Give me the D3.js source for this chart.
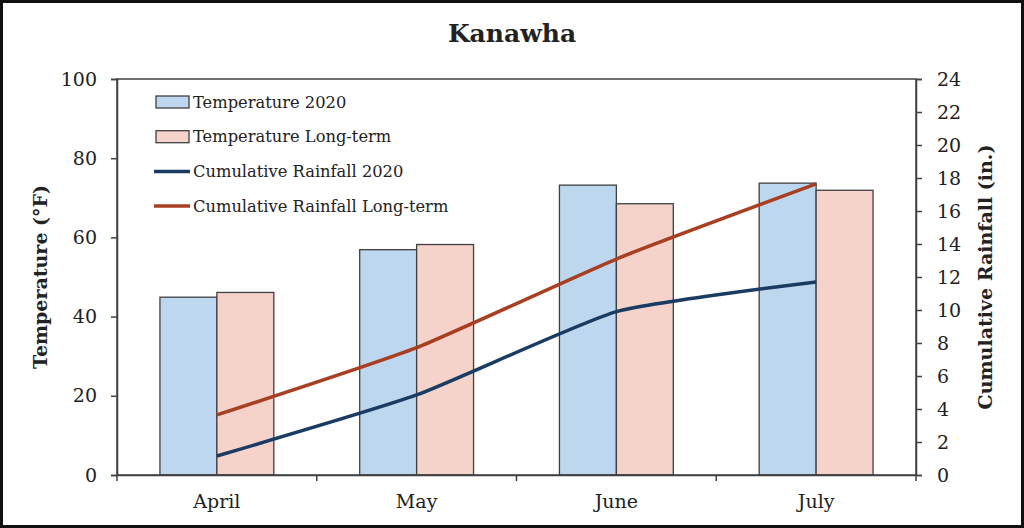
<!DOCTYPE html>
<html lang="en">
<head>
    <meta charset="UTF-8">
    <title>Kanawha</title>
    <script src="https://cdn.jsdelivr.net/npm/d3@7"></script>
    <style>
        body { margin: 0; background: #fff; }
        svg text { fill: #222; }
    </style>
</head>
<body>
<div id="myDiv"></div>

<script>

    // Data
    const months = ["April", "May", "June", "July"];
    const temp2020 = [44.9, 56.9, 73.2, 73.7];
    const tempLongTerm = [46.1, 58.2, 68.5, 71.9];
    const rain2020 = [1.15, 4.85, 9.9, 11.7];
    const rainLongTerm = [3.64, 7.72, 13.09, 17.64];
    const tempTicks = [0, 20, 40, 60, 80, 100];
    const rainTicks = [0, 2, 4, 6, 8, 10, 12, 14, 16, 18, 20, 22, 24];

    const width = 1024, height = 528;
    const margin = {top: 79, right: 108, bottom: 53, left: 117};
    const serif = "'DejaVu Serif', 'Liberation Serif', serif";

    const svg = d3.select("#myDiv")
        .append("svg")
        .attr("width", width)
        .attr("height", height);

    // outer frame
    svg.append("rect")
        .attr("x", 1.5).attr("y", 1.5)
        .attr("width", width - 3).attr("height", height - 3)
        .attr("fill", "#fff")
        .attr("stroke", "#111")
        .attr("stroke-width", 3);

    const x = d3.scaleBand()
        .domain(months)
        .range([margin.left, width - margin.right])
        .paddingInner(0.43)
        .paddingOuter(0.215);

    const inner = d3.scaleBand()
        .domain([0, 1])
        .range([0, x.bandwidth()]);

    const yTemp = d3.scaleLinear()
        .domain([0, 100])
        .range([height - margin.bottom, margin.top]);

    const yRain = d3.scaleLinear()
        .domain([0, 24])
        .range([height - margin.bottom, margin.top]);

    // bars
    const series = [
        {values: temp2020, fill: "#BDD7EE"},
        {values: tempLongTerm, fill: "#F5D2CA"}
    ];

    series.forEach(function(s, k) {
        svg.append("g")
            .selectAll("rect")
            .data(s.values)
            .enter()
            .append("rect")
            .attr("x", function(d, i) { return x(months[i]) + inner(k); })
            .attr("y", function(d) { return yTemp(d); })
            .attr("width", inner.bandwidth())
            .attr("height", function(d) { return yTemp(0) - yTemp(d); })
            .attr("fill", s.fill)
            .attr("stroke", "#404040")
            .attr("stroke-width", 1.3);
    });

    // plot area border
    svg.append("rect")
        .attr("x", margin.left)
        .attr("y", margin.top)
        .attr("width", width - margin.left - margin.right)
        .attr("height", height - margin.top - margin.bottom)
        .attr("fill", "none")
        .attr("stroke", "#404040")
        .attr("stroke-width", 1.5);

    // lines
    const line = d3.line()
        .x(function(d, i) { return x(months[i]) + x.bandwidth() / 2; })
        .y(function(d) { return yRain(d); })
        .curve(d3.curveCardinal.tension(0.5));

    svg.append("path")
        .datum(rainLongTerm)
        .attr("d", line)
        .attr("fill", "none")
        .attr("stroke", "#A93F22")
        .attr("stroke-width", 3.5);

    svg.append("path")
        .datum(rain2020)
        .attr("d", line)
        .attr("fill", "none")
        .attr("stroke", "#1B3C62")
        .attr("stroke-width", 3.5);

    // axes
    const leftAxis = svg.append("g")
        .attr("transform", "translate(" + margin.left + ",0)")
        .call(d3.axisLeft(yTemp).tickValues(tempTicks).tickSize(6).tickPadding(14));

    const rightAxis = svg.append("g")
        .attr("transform", "translate(" + (width - margin.right) + ",0)")
        .call(d3.axisRight(yRain).tickValues(rainTicks).tickSize(6).tickPadding(15));

    const bottomAxis = svg.append("g")
        .attr("transform", "translate(0," + (height - margin.bottom) + ")")
        .call(d3.axisBottom(x).tickSize(0).tickPadding(20));

    // category boundary ticks
    const bounds = months.map(function(m) { return x(m) - x.step() * x.paddingInner() / 2; });
    bounds.push(width - margin.right);
    svg.append("g")
        .selectAll("line")
        .data(bounds)
        .enter()
        .append("line")
        .attr("x1", function(d) { return d; })
        .attr("x2", function(d) { return d; })
        .attr("y1", height - margin.bottom)
        .attr("y2", height - margin.bottom + 6)
        .attr("stroke", "#404040")
        .attr("stroke-width", 1.5);

    [leftAxis, rightAxis, bottomAxis].forEach(function(a) {
        a.select(".domain").attr("stroke", "#404040").attr("stroke-width", 1.5);
        a.selectAll(".tick line").attr("stroke", "#404040").attr("stroke-width", 1.5);
        a.selectAll("text")
            .style("font-family", serif)
            .style("font-size", "19px")
            .attr("fill", "#222");
    });

    // title
    svg.append("text")
        .attr("x", width / 2)
        .attr("y", 42)
        .attr("text-anchor", "middle")
        .style("font-family", serif)
        .style("font-weight", "bold")
        .style("font-size", "25px")
        .text("Kanawha");

    // axis titles
    svg.append("text")
        .attr("transform", "translate(47,277) rotate(-90)")
        .attr("text-anchor", "middle")
        .style("font-family", serif)
        .style("font-weight", "bold")
        .style("font-size", "19px")
        .text("Temperature (°F)");

    svg.append("text")
        .attr("transform", "translate(992,277) rotate(-90)")
        .attr("text-anchor", "middle")
        .style("font-family", serif)
        .style("font-weight", "bold")
        .style("font-size", "19px")
        .text("Cumulative Rainfall (in.)");

    // legend
    const legendItems = [
        {name: "Temperature 2020", type: "bar", color: "#BDD7EE"},
        {name: "Temperature Long-term", type: "bar", color: "#F5D2CA"},
        {name: "Cumulative Rainfall 2020", type: "line", color: "#1B3C62"},
        {name: "Cumulative Rainfall Long-term", type: "line", color: "#A93F22"}
    ];

    const legend = svg.append("g")
        .selectAll("g")
        .data(legendItems)
        .enter()
        .append("g")
        .attr("transform", function(d, i) { return "translate(155," + (102 + i * 34.7) + ")"; });

    legend.filter(function(d) { return d.type === "bar"; })
        .append("rect")
        .attr("x", 1).attr("y", -6)
        .attr("width", 33).attr("height", 12)
        .attr("fill", function(d) { return d.color; })
        .attr("stroke", "#404040")
        .attr("stroke-width", 1.3);

    legend.filter(function(d) { return d.type === "line"; })
        .append("line")
        .attr("x1", -1).attr("x2", 35)
        .attr("y1", 0).attr("y2", 0)
        .attr("stroke", function(d) { return d.color; })
        .attr("stroke-width", 3.5);

    legend.append("text")
        .attr("x", 38)
        .attr("y", 0)
        .attr("dy", "0.35em")
        .style("font-family", serif)
        .style("font-size", "16.3px")
        .attr("fill", "#222")
        .text(function(d) { return d.name; });

</script>

</body>
</html>
